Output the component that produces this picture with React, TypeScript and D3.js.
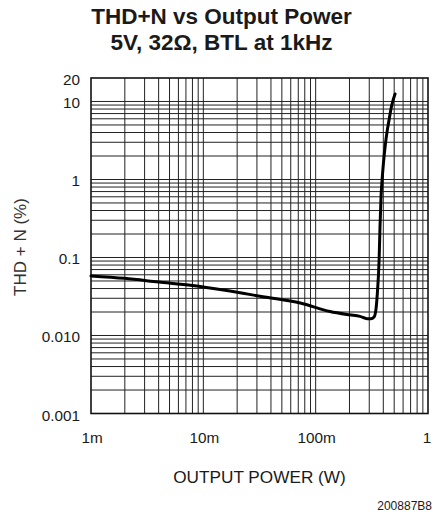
import React from "react";
import * as d3 from "d3";

const titleLines = ["THD+N vs Output Power", "5V, 32\u03A9, BTL at 1kHz"];
const xLabel = "OUTPUT POWER (W)";
const yLabel = "THD + N (%)";
const figId = "200887B8";

const xTickValues = [0.001, 0.01, 0.1, 1];
const xTickLabels = ["1m", "10m", "100m", "1"];
const yTickValues = [20, 10, 1, 0.1, 0.01, 0.001];
const yTickLabels = ["20", "10", "1", "0.1", "0.010", "0.001"];

const power = [0.001, 0.002, 0.004, 0.008, 0.0156, 0.035, 0.073, 0.134, 0.2, 0.248, 0.287, 0.31, 0.331, 0.345, 0.354, 0.367, 0.374, 0.382, 0.39, 0.401, 0.415, 0.43, 0.45, 0.476, 0.509];
const thd = [0.058, 0.054, 0.0485, 0.0437, 0.038, 0.0312, 0.0261, 0.0203, 0.0184, 0.0176, 0.0164, 0.0164, 0.0173, 0.0223, 0.0347, 0.092, 0.252, 0.61, 0.98, 1.61, 2.63, 3.9, 5.78, 9.0, 12.5];

const W = 437;
const H = 515;
const left = 91, right = 428, top = 78, bottom = 413.5;
const font = "'Liberation Sans', Arial, Helvetica, sans-serif";

export default function App() {
  const x = d3.scaleLog().domain([0.001, 1]).range([left, right]);
  const y = d3.scaleLog().domain([0.001, 20]).range([bottom, top]);

  const vGrid: number[] = [];
  for (let d = 0.001; d < 1; d *= 10) {
    for (let m = 2; m <= 9; m++) vGrid.push(+(d * m).toPrecision(3));
    if (d * 10 < 1) vGrid.push(+(d * 10).toPrecision(3));
  }
  const hGrid: number[] = [];
  for (let d = 0.001; d < 10; d *= 10) {
    for (let m = 2; m <= 9; m++) hGrid.push(+(d * m).toPrecision(3));
    hGrid.push(+(d * 10).toPrecision(3));
  }

  const pts = power.map((p, i) => [p, thd[i]] as [number, number]);
  const line = d3
    .line<[number, number]>()
    .x((d) => x(d[0]))
    .y((d) => y(d[1]))
    .curve(d3.curveMonotoneX);

  return (
    <svg width={W} height={H} style={{ position: "absolute", left: 0, top: 0, background: "#fff" }} fontFamily={font}>
      <rect x={0} y={0} width={W} height={H} fill="#fff" />
      {titleLines.map((t, i) => (
        <text key={t} x={221.5} y={24 + i * 26} textAnchor="middle" fontSize={22.5} fontWeight="bold" fill="#1a1a1a">
          {t}
        </text>
      ))}
      <g stroke="#222" strokeWidth={1}>
        {vGrid.map((v) => (
          <line key={"v" + v} x1={x(v)} x2={x(v)} y1={top} y2={bottom} />
        ))}
        {hGrid.map((v) => (
          <line key={"h" + v} x1={left} x2={right} y1={y(v)} y2={y(v)} />
        ))}
      </g>
      <rect x={left} y={top} width={right - left} height={bottom - top} fill="none" stroke="#111" strokeWidth={1.6} />
      <path d={line(pts) || ""} fill="none" stroke="#000" strokeWidth={3} strokeLinejoin="round" strokeLinecap="round" />
      {yTickValues.map((v, i) => (
        <text key={"yt" + v} x={80} y={y(v) + 7} textAnchor="end" fontSize={15.3} fill="#1a1a1a">
          {yTickLabels[i]}
        </text>
      ))}
      {xTickValues.map((v, i) => (
        <text key={"xt" + v} x={x(v) + (i === 3 ? -1 : 1)} y={443} textAnchor="middle" fontSize={15.3} fill="#1a1a1a">
          {xTickLabels[i]}
        </text>
      ))}
      <text x={259.5} y={483} textAnchor="middle" fontSize={17.2} fill="#1a1a1a">
        {xLabel}
      </text>
      <text transform="translate(26,247) rotate(-90)" textAnchor="middle" fontSize={17} fill="#333">
        {yLabel}
      </text>
      <text x={432} y={510} textAnchor="end" fontSize={12} fill="#1a1a1a">
        {figId}
      </text>
    </svg>
  );
}
